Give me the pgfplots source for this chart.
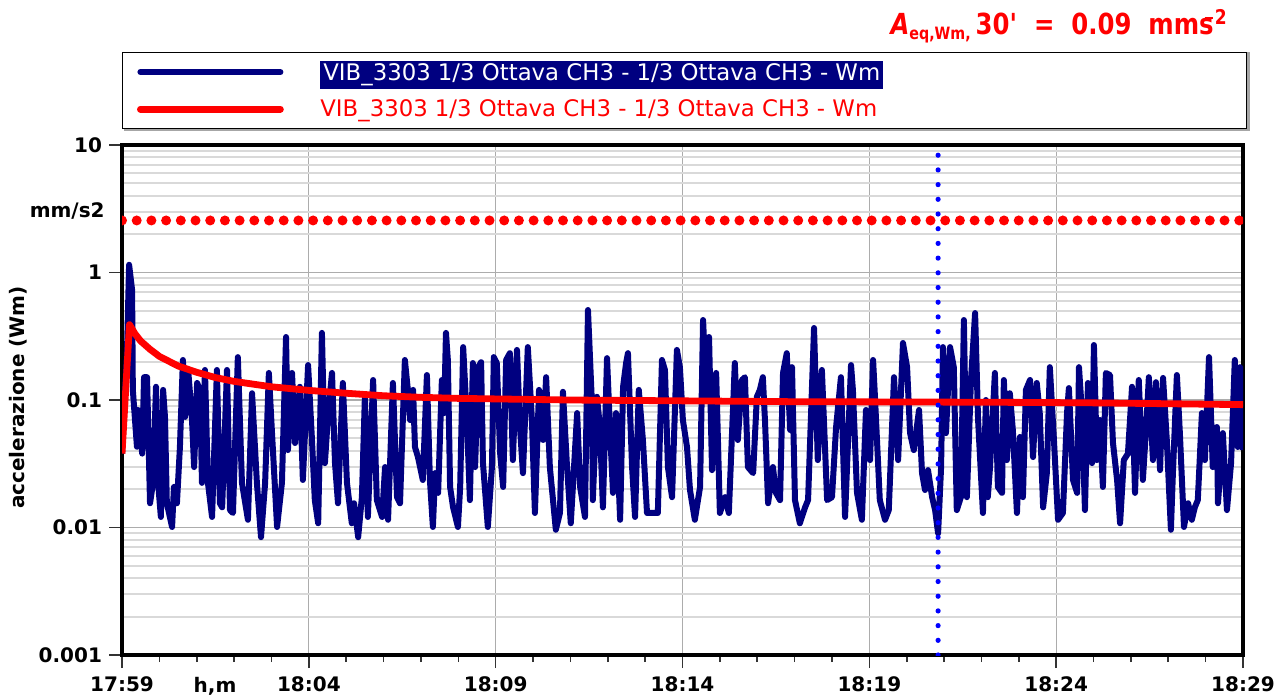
\documentclass[border=0pt]{standalone}
\usepackage{pgfplots}
\pgfplotsset{compat=1.18}
\usepackage{pgfplotstable}
\usepackage{fontspec}
\setmainfont{DejaVu Sans}
\definecolor{navyb}{RGB}{0,0,128}
\definecolor{dotblue}{RGB}{0,0,255}

\pgfplotstableread{
t v
0.00 0.038
0.13 0.217
0.19 1.15
0.27 0.729
0.29 0.120
0.40 0.043
0.43 0.0835
0.54 0.038
0.59 0.151
0.67 0.151
0.75 0.0155
0.83 0.0224
0.91 0.127
0.96 0.0236
1.04 0.0121
1.10 0.120
1.15 0.0737
1.20 0.0155
1.34 0.0101
1.39 0.0208
1.47 0.0155
1.55 0.0428
1.63 0.206
1.69 0.0737
1.77 0.172
1.87 0.0737
1.93 0.0298
2.01 0.136
2.09 0.120
2.14 0.0224
2.22 0.172
2.30 0.0224
2.41 0.0121
2.54 0.172
2.62 0.0155
2.68 0.0144
2.81 0.172
2.89 0.0137
2.97 0.0130
3.10 0.217
3.21 0.0224
3.37 0.0115
3.48 0.113
3.61 0.0224
3.72 0.0084
3.83 0.0224
3.93 0.163
4.01 0.0582
4.15 0.0101
4.28 0.0224
4.39 0.312
4.44 0.0405
4.55 0.163
4.63 0.046
4.76 0.127
4.84 0.0236
4.98 0.188
5.08 0.0513
5.16 0.0164
5.25 0.0108
5.35 0.336
5.43 0.032
5.51 0.0737
5.62 0.163
5.70 0.032
5.78 0.0155
5.91 0.136
6.02 0.0224
6.15 0.0108
6.21 0.0155
6.32 0.0084
6.42 0.0173
6.50 0.106
6.58 0.0121
6.72 0.1435
6.82 0.0164
6.96 0.0121
7.04 0.0298
7.12 0.0115
7.25 0.136
7.36 0.0173
7.44 0.0155
7.57 0.206
7.65 0.120
7.71 0.0697
7.79 0.120
7.84 0.0428
7.92 0.0357
8.05 0.0236
8.16 0.157
8.24 0.0236
8.32 0.0101
8.38 0.0267
8.46 0.0187
8.56 0.1435
8.62 0.079
8.67 0.336
8.72 0.206
8.78 0.0208
8.86 0.0144
8.99 0.0101
9.05 0.0208
9.13 0.260
9.23 0.0697
9.31 0.0164
9.39 0.195
9.45 0.0298
9.53 0.181
9.61 0.198
9.66 0.032
9.79 0.0101
9.90 0.0298
9.95 0.217
10.03 0.195
10.12 0.038
10.20 0.0208
10.28 0.206
10.38 0.233
10.46 0.0338
10.57 0.247
10.65 0.0614
10.73 0.0267
10.86 0.260
10.97 0.0697
11.05 0.0130
11.16 0.120
11.27 0.0486
11.35 0.151
11.45 0.0298
11.61 0.0096
11.72 0.0130
11.80 0.116
11.91 0.0298
12.01 0.0108
12.18 0.079
12.26 0.0208
12.39 0.0121
12.47 0.508
12.58 0.088
12.60 0.0164
12.71 0.106
12.79 0.0614
12.87 0.0144
12.98 0.213
13.06 0.0582
13.14 0.0187
13.22 0.079
13.33 0.0115
13.41 0.127
13.49 0.195
13.54 0.233
13.65 0.0298
13.73 0.0121
13.83 0.120
13.94 0.0486
14.05 0.0130
14.21 0.0130
14.34 0.0130
14.45 0.206
14.53 0.172
14.61 0.0298
14.72 0.0173
14.85 0.247
14.93 0.181
15.01 0.0697
15.12 0.0428
15.20 0.0197
15.33 0.0115
15.47 0.0208
15.55 0.424
15.65 0.100
15.71 0.312
15.79 0.0282
15.90 0.163
16.00 0.0130
16.14 0.0173
16.24 0.0130
16.40 0.195
16.48 0.0486
16.59 0.1435
16.67 0.151
16.75 0.0298
16.89 0.0267
16.99 0.106
17.07 0.120
17.15 0.151
17.21 0.066
17.29 0.0155
17.42 0.0298
17.50 0.0187
17.61 0.0164
17.69 0.163
17.79 0.233
17.88 0.0582
17.93 0.181
18.01 0.0164
18.14 0.0108
18.28 0.0144
18.36 0.0164
18.52 0.367
18.62 0.0338
18.73 0.172
18.87 0.0164
19.00 0.0173
19.11 0.0614
19.24 0.151
19.35 0.0121
19.51 0.188
19.56 0.120
19.67 0.0187
19.80 0.0115
19.91 0.0835
20.02 0.0338
20.10 0.206
20.15 0.106
20.28 0.0164
20.42 0.0115
20.52 0.0137
20.66 0.151
20.77 0.0338
20.90 0.280
21.01 0.181
21.09 0.055
21.19 0.0405
21.33 0.0835
21.41 0.0267
21.49 0.0197
21.57 0.0282
21.68 0.0173
21.76 0.0137
21.84 0.0090
21.92 0.0298
21.97 0.260
22.05 0.055
22.16 0.260
22.26 0.181
22.34 0.0137
22.45 0.0173
22.53 0.424
22.61 0.0173
22.72 0.1435
22.83 0.481
22.91 0.0697
23.04 0.0130
23.12 0.100
23.17 0.0173
23.23 0.0298
23.36 0.163
23.44 0.0208
23.55 0.0187
23.60 0.1435
23.68 0.0338
23.76 0.113
23.84 0.0582
23.95 0.0130
24.03 0.0513
24.11 0.0173
24.19 0.120
24.30 0.1435
24.38 0.0357
24.48 0.136
24.56 0.079
24.65 0.0144
24.75 0.0267
24.83 0.181
24.94 0.0486
25.05 0.0115
25.18 0.0130
25.29 0.079
25.34 0.124
25.45 0.0236
25.56 0.0187
25.61 0.181
25.69 0.079
25.77 0.0137
25.85 0.136
25.96 0.032
26.01 0.270
26.09 0.0338
26.17 0.0697
26.25 0.0208
26.33 0.163
26.44 0.157
26.52 0.046
26.63 0.0236
26.71 0.0108
26.81 0.0338
26.92 0.038
27.03 0.127
27.11 0.0187
27.21 0.1435
27.32 0.0236
27.43 0.079
27.48 0.151
27.59 0.0338
27.67 0.138
27.78 0.0282
27.86 0.149
27.96 0.0486
28.07 0.0096
28.12 0.025
28.23 0.157
28.31 0.055
28.42 0.0101
28.53 0.0155
28.63 0.0115
28.71 0.0144
28.79 0.0164
28.90 0.079
28.98 0.0338
29.09 0.217
29.19 0.0298
29.30 0.0614
29.33 0.0155
29.46 0.055
29.57 0.0137
29.68 0.032
29.78 0.206
29.86 0.0428
29.92 0.181
30.00 0.0405
}\vibdata

\pgfplotstableread{
t v
0.00 0.038
0.20 0.39
0.35 0.33
0.50 0.29
0.75 0.25
1.00 0.22
1.50 0.185
2.00 0.165
2.50 0.150
3.00 0.140
4.00 0.127
5.00 0.119
6.00 0.113
7.00 0.108
8.00 0.105
9.00 0.103
10.0 0.102
11.0 0.101
12.0 0.100
14.0 0.099
16.0 0.098
18.0 0.097
20.0 0.0967
22.0 0.0963
24.0 0.0958
26.0 0.0950
28.0 0.0935
30.0 0.0920
}\leqdata

\begin{document}
\begin{tikzpicture}
\path[use as bounding box] (0pt,0pt) rectangle (638.5pt,349pt);
% legend shadow edges
\draw[gray!70, line width=1.2pt] (62pt,284.2pt) -- (624.3pt,284.2pt) -- (624.3pt,323pt);
\begin{axis}[
  at={(61pt,21.5pt)}, anchor=south west,
  scale only axis, width=560.5pt, height=255pt,
  ymode=log, ymin=0.001, ymax=10, xmin=0, xmax=30,
  xtick={0,5,...,30},
  xticklabels={17:59,18:04,18:09,18:14,18:19,18:24,18:29},
  minor x tick num=4,
  ytick={0.001,0.01,0.1,1,10},
  yticklabels={0.001,0.01,0.1,1,10},
  minor ytick={0.002,0.003,0.004,0.005,0.006,0.007,0.008,0.009,
               0.02,0.03,0.04,0.05,0.06,0.07,0.08,0.09,
               0.2,0.3,0.4,0.5,0.6,0.7,0.8,0.9,
               2,3,4,5,6,7,8,9},
  tick align=outside,
  xtick pos=bottom, ytick pos=left,
  major tick length=6.5pt, minor tick length=3.5pt,
  tick style={black!80, line width=0.8pt},
  minor y tick style={draw=none},
  xmajorgrids, ymajorgrids, yminorgrids,
  major grid style={gray!65, line width=0.6pt},
  minor grid style={gray!30, line width=0.9pt},
  axis line style={line width=2pt, black},
  ticklabel style={font=\bfseries\fontsize{10}{12}\selectfont},
  xticklabel style={yshift=-1pt},
  /pgf/number format/assume math mode=true,
  legend cell align=left,
  legend style={at={(0,1)}, anchor=south west, yshift=8pt,
    draw=black, inner xsep=0pt, inner ysep=0.5pt,
    row sep=0pt, column sep=0pt,
    font=\fontsize{11.4}{13}\selectfont,
    nodes={inner sep=0pt, minimum height=18.5pt}},
  legend image code/.code={\path[draw=none, fill=none] (0pt,-8pt) rectangle (99pt,8pt);
    \draw[#1, line cap=round] (9pt,0pt) -- (79pt,0pt);},
]
\addplot[navyb, line width=3pt, line join=round] table[x=t, y=v] {\vibdata};
\addlegendentry{\makebox[463pt][l]{\setlength{\fboxsep}{1.5pt}\colorbox{navyb}{\textcolor{white}{VIB\_3303 1/3 Ottava CH3 - 1/3 Ottava CH3 - Wm}}}}
\addplot[red, line width=3.4pt, line join=round] table[x=t, y=v] {\leqdata};
\addlegendentry{\makebox[463pt][l]{\textcolor{red}{VIB\_3303 1/3 Ottava CH3 - 1/3 Ottava CH3 - Wm}}}
\addplot[red, line width=5pt, line cap=round, dash pattern=on 0pt off 7.35pt, forget plot] coordinates {(0,2.56) (30,2.56)};
\addplot[dotblue, line width=2.6pt, line cap=round, dash pattern=on 0pt off 7.35pt, forget plot] coordinates {(21.84,0.001) (21.84,10)};
\end{axis}
\node[rotate=90, font=\bfseries\fontsize{10}{12}\selectfont] at (9pt,150.25pt) {accelerazione (Wm)};
\node[anchor=east, inner sep=0pt, font=\bfseries\fontsize{10}{12}\selectfont] at (52.5pt,243.5pt) {mm/s2};
\node[inner sep=0pt, font=\bfseries\fontsize{10}{12}\selectfont] at (107.5pt,6pt) {h,m};
\node[anchor=east, inner sep=0pt, text=red, font=\bfseries\fontsize{14.5}{17}\selectfont] at (614pt,336pt)
  {\scalebox{0.84}[1]{\textit{A}\textsubscript{\fontsize{8.5}{9}\selectfont eq,Wm,}\,30\textquotesingle\ \ = \ 0.09 \ mms\textsuperscript{\kern-0.5em\rule[0.45ex]{0.45em}{0.13em}\kern0.12em2}}};
\end{tikzpicture}
\end{document}
